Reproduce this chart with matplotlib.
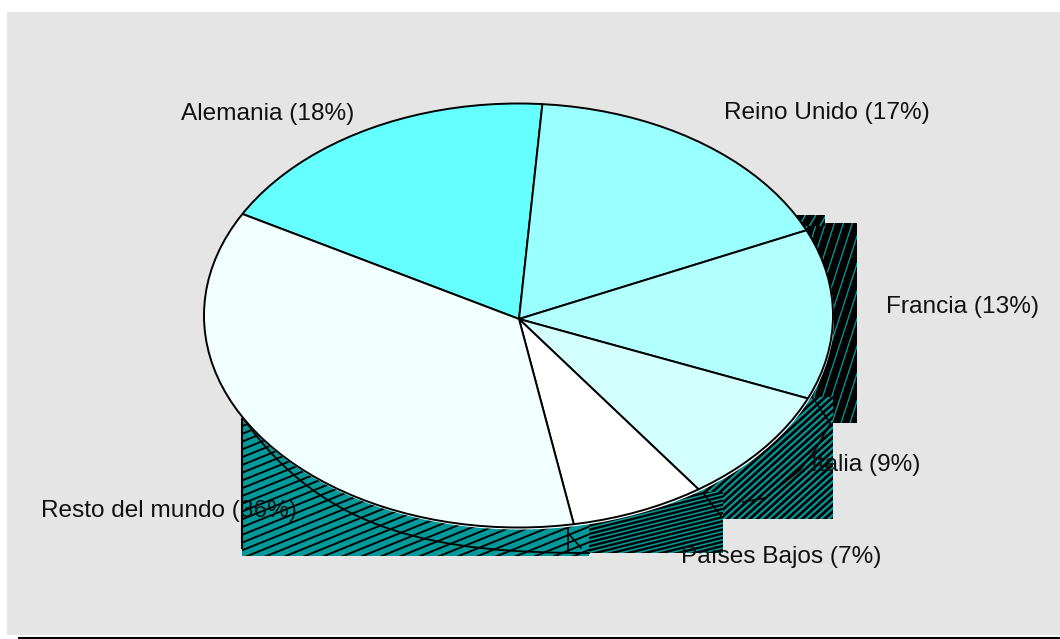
import numpy as np
import matplotlib
matplotlib.use("Agg")
import matplotlib.pyplot as plt
from matplotlib.collections import LineCollection
from matplotlib.patches import Ellipse, PathPatch, Rectangle
from matplotlib.path import Path

# Data
countries = ["Alemania", "Reino Unido", "Francia", "Italia", "Países Bajos", "Resto del mundo"]
shares = [18, 17, 13, 9, 7, 36]
slice_colors = ["#66FFFF", "#99FFFF", "#B2FFFF", "#D4FFFF", "#FFFFFF", "#F2FFFF"]

# Layout, in pixels of the 1060x639 picture
W, H = 1060, 639
OUTLINE_CX, OUTLINE_CY = 518.5, 315.5
PIE_CX, PIE_CY = 519, 319  # spokes meet a little below the middle of the outline
PIE_A, PIE_B = 314.5, 212
RADIUS = 1.06
MARGIN = 1.1
START_ANGLE = 150.6
LABEL_POS = [(268, 114), (827, 113), (962, 307), (866, 465), (781, 557), (169, 511)]

TEAL = "#009999"
# x0, y0, x1, y1, hatch angle, spacing, line width px
SHADOW_BOXES = [
    (800, 223, 857, 423, 72, 8.5, 7.2),
    (797, 215, 825, 226, 60, 9, 7.5),
    (695, 397, 833, 519, 42, 5.0, 2.8),
    (568, 492, 723, 553, 14, 4.0, 2.4),
    (242, 418, 589, 556, 22, 7.2, 1.9),
]
# stray outline pieces inside the shadow
SHADOW_LINES = [
    ([813, 830], [398, 423]),
    ([703, 722], [493, 517]),
    ([568, 568], [525, 552]),
    ([568, 581], [533, 548]),
    ([743, 765, 800, 815, 830], [502, 498, 470, 450, 424]),
]
RIM_CURVE = [(243, 418), (325, 535), (440, 553), (590, 553)]


def draw_shadow_box(ax, box):
    x0, y0, x1, y1, angle, spacing, lw = box
    rect = Rectangle((x0, y0), x1 - x0, y1 - y0, facecolor=TEAL, edgecolor="none", zorder=2)
    ax.add_patch(rect)

    # straight hatch lines, clipped to the box
    theta = np.radians(angle)
    ux, uy = np.cos(theta), -np.sin(theta)
    nx, ny = -uy, ux
    cx, cy = (x0 + x1) / 2, (y0 + y1) / 2
    reach = np.hypot(x1 - x0, y1 - y0)
    segments = []
    for off in np.arange(-reach, reach, spacing):
        px, py = cx + nx * off, cy + ny * off
        segments.append([(px - ux * reach, py - uy * reach), (px + ux * reach, py + uy * reach)])
    hatch = LineCollection(segments, colors="black", linewidths=lw * 0.72, zorder=2)
    ax.add_collection(hatch)
    hatch.set_clip_path(rect)


fig = plt.figure(figsize=(W / 100, H / 100), dpi=100, facecolor="white")
plt.rcParams["font.family"] = ["Liberation Sans", "DejaVu Sans"]

bg = fig.add_axes([0, 0, 1, 1])
bg.set_xlim(0, W)
bg.set_ylim(H, 0)
bg.axis("off")
bg.add_patch(Rectangle((7, 12), W - 7, 623, facecolor="#E5E5E5", edgecolor="none", zorder=0))
bg.plot([18, W], [637.5, 637.5], color="black", lw=1.5, zorder=1, solid_capstyle="butt")

for box in SHADOW_BOXES:
    draw_shadow_box(bg, box)

# left border and lower rim of the extruded side
bg.plot([242, 242], [418, 549], color="black", lw=1.5, zorder=3, solid_capstyle="butt")
rim = Path(RIM_CURVE, [Path.MOVETO, Path.CURVE4, Path.CURVE4, Path.CURVE4])
bg.add_patch(PathPatch(rim, facecolor="none", edgecolor="black", lw=1.3, zorder=3))
for xs, ys in SHADOW_LINES:
    bg.plot(xs, ys, color="black", lw=1.2, zorder=3)

bg.add_patch(Ellipse((OUTLINE_CX + 1, OUTLINE_CY + 2), 2 * PIE_A, 2 * PIE_B,
                     facecolor="white", edgecolor="none", zorder=4))

# pie: the axes is stretched so the circle becomes the flat ellipse
pie_w = 2 * PIE_A * MARGIN
pie_h = 2 * PIE_B * MARGIN
ax = fig.add_axes([
    (PIE_CX - pie_w / 2) / W,
    1 - (PIE_CY + pie_h / 2) / H,
    pie_w / W,
    pie_h / H,
])
wedges, _ = ax.pie(
    shares,
    colors=slice_colors,
    startangle=START_ANGLE,
    counterclock=False,
    radius=RADIUS,
    wedgeprops={"edgecolor": "black", "linewidth": 1.4},
)
ax.set_aspect("auto")
ax.set_xlim(-MARGIN, MARGIN)
ax.set_ylim(-MARGIN, MARGIN)
ax.patch.set_visible(False)

# wedges are trimmed to the outline, which sits off-centre from the spokes
clip_shape = Ellipse((OUTLINE_CX, OUTLINE_CY), 2 * PIE_A, 2 * PIE_B, transform=bg.transData)
for wedge in wedges:
    wedge.set_clip_on(True)
    wedge.set_clip_path(clip_shape)
ax.add_patch(Ellipse((OUTLINE_CX, OUTLINE_CY), 2 * PIE_A, 2 * PIE_B, transform=bg.transData,
                     facecolor="none", edgecolor="black", lw=1.4, clip_on=False, zorder=5))

for name, share, (lx, ly) in zip(countries, shares, LABEL_POS):
    fig.text(lx, ly, f"{name} ({share}%)", transform=bg.transData, fontsize=17.6,
             color="#111111", ha="center", va="center", zorder=10)

fig.savefig("out.png", dpi=100)
